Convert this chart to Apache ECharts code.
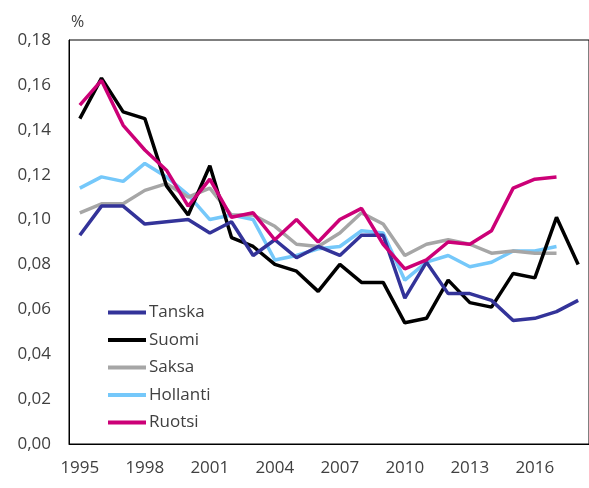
<!DOCTYPE html>
<html>
<head>
<meta charset="utf-8">
<script src="https://cdn.jsdelivr.net/npm/echarts@6/dist/echarts.min.js"></script>
<style>
html,body{margin:0;padding:0;background:#fff;}
#main{width:589px;height:488px;}
</style>
</head>
<body>
<div id="main"></div>
<script>
var years=[];
for(var y=1995;y<=2018;y++){ years.push(String(y)); }

var tanska=[0.093,0.106,0.106,0.098,0.099,0.100,0.094,0.099,0.084,0.091,0.083,0.088,0.084,0.093,0.093,0.065,0.081,0.067,0.067,0.064,0.055,0.056,0.059,0.064];
var suomi=[0.145,0.163,0.148,0.145,0.115,0.102,0.124,0.092,0.088,0.080,0.077,0.068,0.080,0.072,0.072,0.054,0.056,0.073,0.063,0.061,0.076,0.074,0.101,0.080];
var saksa=[0.103,0.107,0.107,0.113,0.116,0.110,0.114,0.102,0.102,0.097,0.089,0.088,0.094,0.103,0.098,0.084,0.089,0.091,0.089,0.085,0.086,0.085,0.085];
var hollanti=[0.114,0.119,0.117,0.125,0.119,0.111,0.100,0.102,0.100,0.082,0.084,0.087,0.088,0.095,0.094,0.073,0.081,0.084,0.079,0.081,0.086,0.086,0.088];
var ruotsi=[0.151,0.162,0.142,0.131,0.122,0.106,0.118,0.101,0.103,0.091,0.100,0.090,0.100,0.105,0.089,0.078,0.082,0.090,0.089,0.095,0.114,0.118,0.119];

var names=['Tanska','Suomi','Saksa','Hollanti','Ruotsi'];
var color=['#333399','#000000','#a6a6a6','#75c8fa','#cc0077'];
var values=[tanska,suomi,saksa,hollanti,ruotsi];

var font='"Open Sans", sans-serif';

var series=[];
for(var i=0;i<names.length;i++){
	series.push({
		name:names[i],
		type:'line',
		data:values[i],
		symbol:'none',
		lineStyle:{width:3.5,color:color[i]},
		itemStyle:{color:color[i]},
		z:10-i
	});
}
// Ruotsi piirretään päällimmäiseksi
series[4].z=20;

var myChart=echarts.init(document.getElementById('main'));
myChart.setOption({
	animation:false,
	backgroundColor:'#fff',
	grid:{
		left:69,
		top:40,
		width:525,
		height:404,
		show:true,
		borderColor:'#000',
		borderWidth:1
	},
	legend:{
		orient:'vertical',
		left:103,
		top:299,
		itemWidth:38,
		itemHeight:4,
		itemGap:10.5,
		icon:'rect',
		textStyle:{fontFamily:font,fontSize:17,color:'#404040',padding:[0,0,0,-2]},
		data:names
	},
	xAxis:{
		type:'category',
		data:years,
		boundaryGap:true,
		axisLine:{lineStyle:{color:'#000',width:1}},
		axisTick:{show:false},
		axisLabel:{interval:2,margin:16,fontFamily:font,fontSize:17,color:'#404040'}
	},
	yAxis:{
		type:'value',
		min:0,
		max:0.18,
		interval:0.02,
		name:'%',
		nameGap:10,
		nameTextStyle:{fontFamily:font,fontSize:16,color:'#404040',align:'left',padding:[0,0,0,2]},
		axisLine:{show:true,lineStyle:{color:'#000',width:1}},
		axisTick:{show:false},
		splitLine:{show:false},
		axisLabel:{
			margin:18,
			fontFamily:font,
			fontSize:17,
			color:'#404040',
			formatter:function(v){ return v.toFixed(2).replace('.',','); }
		}
	},
	series:series
});
</script>
</body>
</html>
